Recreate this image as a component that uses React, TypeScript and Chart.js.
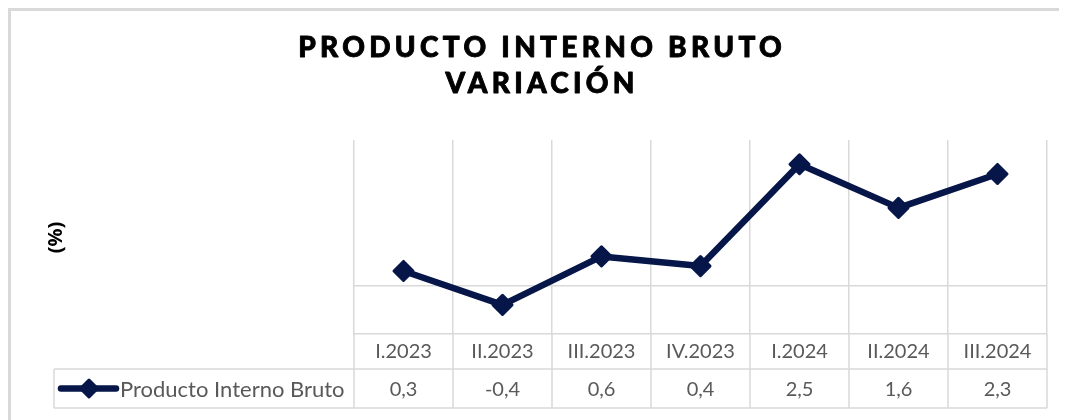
import React, { useEffect, useRef } from "react";
import { Chart, registerables } from "chart.js";

Chart.register(...registerables);

const categories = ["I.2023", "II.2023", "III.2023", "IV.2023", "I.2024", "II.2024", "III.2024"];
const pibValues = [0.3, -0.4, 0.6, 0.4, 2.5, 1.6, 2.3];
const seriesName = "Producto Interno Bruto";
const titleLines = ["PRODUCTO INTERNO BRUTO", "VARIACIÓN"];
const yAxisLabel = "(%)";
const yMin = -1;
const yMax = 3;

const NAVY = "#061649";
const GRID = "#d9d9d9";
const TEXT_GRAY = "#595959";
const TABLE_FONT = "Lato, 'Noto Sans', sans-serif";

const fmt = (v: number) => v.toFixed(1).replace(".", ",");

const CANVAS_W = 1059;
const CANVAS_H = 412;

export default function App() {
  const ref = useRef<HTMLCanvasElement | null>(null);

  useEffect(() => {
    if (!ref.current) return;

    const decorPlugin = {
      id: "decor",
      beforeDatasetsDraw(chart: any) {
        chart.ctx.save();
        chart.ctx.lineJoin = "round";
      },
      afterDatasetsDraw(chart: any) {
        chart.ctx.restore();
      },
      afterDraw(chart: any) {
        const ctx = chart.ctx as CanvasRenderingContext2D;
        const area = chart.chartArea;
        const xs = chart.scales.x;
        const n = categories.length;
        const step = n > 1 ? xs.getPixelForValue(1) - xs.getPixelForValue(0) : 0;
        const rowSep = area.bottom + 35;
        const tableBottom = area.bottom + 74;
        const legendLeft = 46;

        ctx.save();
        // table lines
        ctx.strokeStyle = GRID;
        ctx.lineWidth = 1.5;
        ctx.beginPath();
        for (let i = 0; i <= n; i++) {
          const x = xs.getPixelForValue(0) - step / 2 + i * step;
          ctx.moveTo(x, area.bottom);
          ctx.lineTo(x, tableBottom);
        }
        ctx.moveTo(legendLeft, rowSep);
        ctx.lineTo(area.right, rowSep);
        ctx.moveTo(legendLeft, tableBottom);
        ctx.lineTo(area.right, tableBottom);
        ctx.moveTo(legendLeft, rowSep);
        ctx.lineTo(legendLeft, tableBottom);
        ctx.stroke();

        // values row
        const rowMid = (rowSep + tableBottom) / 2;
        ctx.fillStyle = TEXT_GRAY;
        ctx.font = `20px ${TABLE_FONT}`;
        ctx.textAlign = "center";
        ctx.textBaseline = "middle";
        pibValues.forEach((v, i) => {
          ctx.fillText(fmt(v), xs.getPixelForValue(i), rowMid + 1);
        });

        // legend key
        ctx.strokeStyle = NAVY;
        ctx.lineWidth = 6.5;
        ctx.lineCap = "round";
        ctx.beginPath();
        ctx.moveTo(53, rowMid);
        ctx.lineTo(108, rowMid);
        ctx.stroke();
        ctx.fillStyle = NAVY;
        ctx.lineJoin = "round";
        ctx.lineWidth = 3;
        ctx.beginPath();
        const r = 8.5;
        ctx.moveTo(81, rowMid - r);
        ctx.lineTo(81 + r, rowMid);
        ctx.lineTo(81, rowMid + r);
        ctx.lineTo(81 - r, rowMid);
        ctx.closePath();
        ctx.fill();
        ctx.stroke();
        ctx.fillStyle = TEXT_GRAY;
        ctx.textAlign = "left";
        ctx.font = `22px ${TABLE_FONT}`;
        ctx.fillText(seriesName, 112, rowMid + 1);

        // y axis title
        ctx.save();
        ctx.translate(48, 229.5);
        ctx.rotate(-Math.PI / 2);
        ctx.fillStyle = "#000";
        ctx.font = `bold 20px 'Open Sans', Lato, sans-serif`;
        ctx.textAlign = "center";
        ctx.textBaseline = "middle";
        ctx.fillText(yAxisLabel, 0, 0);
        ctx.restore();

        // chart title
        const spacing = 4.3;
        (ctx as any).letterSpacing = `${spacing}px`;
        ctx.fillStyle = "#000";
        ctx.strokeStyle = "#000";
        ctx.lineWidth = 0.9;
        ctx.lineJoin = "round";
        ctx.font = `900 28px Lato, 'Noto Sans', sans-serif`;
        ctx.textAlign = "center";
        ctx.textBaseline = "alphabetic";
        titleLines.forEach((t, i) => {
          const y = 49 + i * 36;
          ctx.fillText(t, 532 + spacing / 2, y);
          ctx.strokeText(t, 532 + spacing / 2, y);
        });
        (ctx as any).letterSpacing = "0px";
        ctx.restore();
      },
    };

    const chart = new Chart(ref.current, {
      type: "line",
      data: {
        labels: categories,
        datasets: [
          {
            label: seriesName,
            data: pibValues,
            borderColor: NAVY,
            backgroundColor: NAVY,
            borderWidth: 6.5,
            borderJoinStyle: "round",
            borderCapStyle: "round",
            pointStyle: "rectRot",
            pointRadius: 9.5,
            pointHoverRadius: 9.5,
            pointBackgroundColor: NAVY,
            pointBorderColor: NAVY,
            pointBorderWidth: 3,
            tension: 0,
          },
        ],
      },
      options: {
        responsive: false,
        animation: false,
        devicePixelRatio: 1,
        layout: { padding: { left: 346, right: 20, top: 132, bottom: 0 } },
        plugins: {
          legend: { display: false },
          title: { display: false },
          tooltip: { enabled: false },
        },
        scales: {
          x: {
            type: "category",
            offset: true,
            afterFit: (s: any) => {
              s.height = 86;
            },
            grid: {
              offset: true,
              color: GRID,
              lineWidth: 1.5,
              drawTicks: false,
            },
            border: { display: true, color: GRID, width: 1.5 },
            ticks: {
              color: TEXT_GRAY,
              font: { family: TABLE_FONT, size: 20 },
              padding: 6,
              maxRotation: 0,
              autoSkip: false,
            },
          },
          y: {
            min: yMin,
            max: yMax,
            afterFit: (s: any) => {
              s.width = 0;
            },
            ticks: { display: false, stepSize: 1 },
            grid: {
              drawTicks: false,
              lineWidth: 1.5,
              color: (c: any) => (c.tick && c.tick.value === 0 ? GRID : "rgba(0,0,0,0)"),
            },
            border: { display: false },
          },
        },
      },
      plugins: [decorPlugin],
    });

    return () => chart.destroy();
  }, []);

  return (
    <div style={{ position: "relative", width: CANVAS_W, height: CANVAS_H, overflow: "hidden" }}>
      <div
        style={{
          position: "absolute",
          left: 0,
          top: 0,
          width: 1300,
          height: 700,
          border: `3px solid ${GRID}`,
          boxSizing: "border-box",
        }}
      />
      <canvas
        ref={ref}
        width={CANVAS_W}
        height={CANVAS_H}
        style={{ position: "absolute", left: 0, top: 0, width: CANVAS_W, height: CANVAS_H }}
      />
    </div>
  );
}
